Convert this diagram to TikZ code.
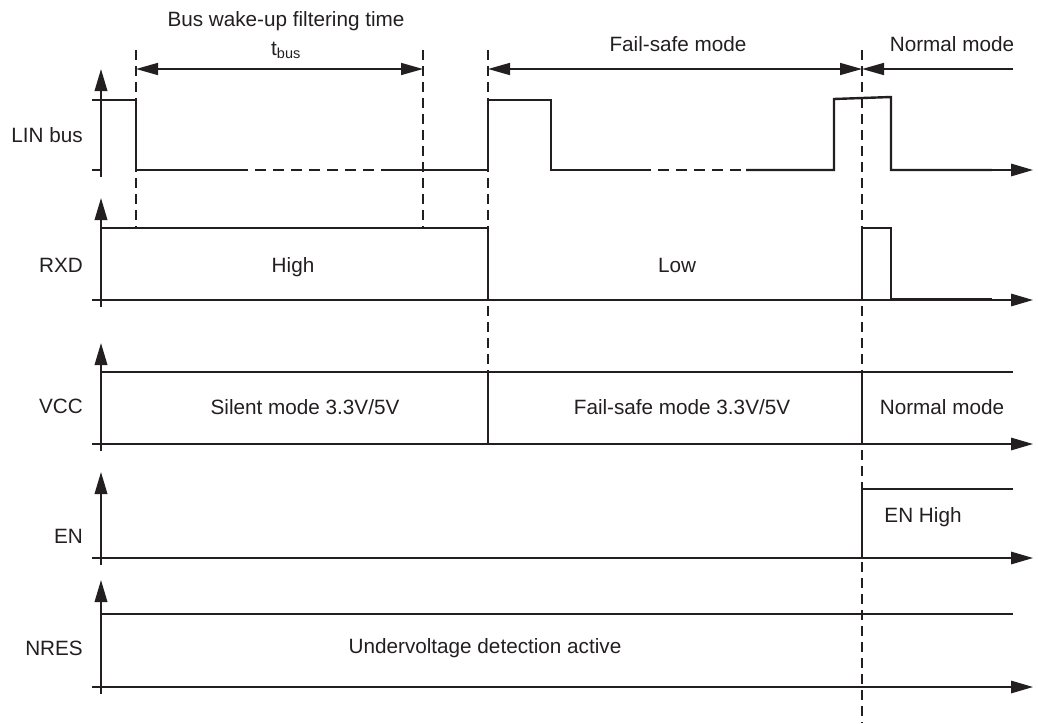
\documentclass[tikz,border=0pt]{standalone}
\usepackage{fontspec}
\setmainfont{Liberation Sans}
\usetikzlibrary{arrows.meta}
\definecolor{ink}{RGB}{35,31,32}
\tikzset{
  sig/.style={line width=2.4pt,ink},
  axline/.style={line width=2pt,ink,-{Triangle[length=22pt,width=12.5pt]}},
  guide/.style={line width=1.3pt,ink,dash pattern=on 10pt off 6pt},
  dimline/.style={line width=1.6pt,ink,{Triangle[length=22pt,width=12pt]}-{Triangle[length=22pt,width=12pt]}},
  halfdim/.style={line width=1.6pt,ink,arrows={-Triangle[length=22pt,width=12pt]}},
  lbl/.style={inner sep=0pt,anchor=base east,text=ink},
  txt/.style={inner sep=0pt,anchor=base,text=ink}
}
\begin{document}
\begin{tikzpicture}[x=1pt,y=-1pt,font=\fontsize{20.7}{24}\selectfont]
\useasboundingbox (0,0) rectangle (1038,723);
\draw [guide] (136,50) -- (136,228);
\draw [guide] (423,50) -- (423,228);
\draw [guide] (488,50) -- (488,372);
\draw [guide] (862,50) -- (862,723);
\foreach \lo/\tip/\name/\ly in {170/69/LIN bus/142,300/198/RXD/272,444/343/VCC/413,558/472/EN/543,687/580/NRES/655}{
  \draw [axline] (101,\lo+7) -- (101,\tip);
  \draw [axline,line width=1.5pt] (990,\lo) -- (1033,\lo);
  \node [lbl] (name-\lo) at (83,\ly) {\name};
}
\draw [sig] (92,100) -- (136,100) -- (136,170) -- (237,170);
\draw [sig] (387,170) -- (488,170) -- (488,100) -- (551,100) -- (551,170) -- (640,170);
\draw [sig] (746,170) -- (834,170) -- (834,99) -- (891,97) -- (891,170) -- (992,170);
\draw [sig] (92,170) -- (101,170);
\draw [guide,dash pattern=on 11pt off 7pt] (237,170) -- (387,170);
\draw [guide,dash pattern=on 11pt off 7pt] (640,170) -- (746,170);
\draw [sig] (92,300) -- (992,300);
\draw [sig] (101,228) -- (488,228) -- (488,300);
\draw [sig] (862,300) -- (862,228) -- (891,228) -- (891,299) -- (992,299);
\draw [sig] (92,444) -- (992,444);
\draw [sig] (101,372) -- (1013,372);
\draw [sig] (488,372) -- (488,444);
\draw [sig] (862,372) -- (862,444);
\draw [sig] (92,558) -- (992,558);
\draw [sig] (862,558) -- (862,489) -- (1013,489);
\draw [sig] (92,687) -- (992,687);
\draw [sig] (101,614) -- (1013,614);
\draw [dimline] (136,69) -- (423,69);
\draw [dimline] (488,69) -- (862,69);
\draw [halfdim] (1013,69) -- (862,69);
\node [txt] (bwt) at (286,26) {Bus wake-up filtering time};
\node [txt] (tbus) at (286,55) {t\textsubscript{bus}};
\node [txt] (fsm) at (678,51) {Fail-safe mode};
\node [txt] (nm) at (952,51) {Normal mode};
\node [txt] (high) at (293,272) {High};
\node [txt] (low) at (677,272) {Low};
\node [txt] (silent) at (305,414) {Silent mode 3.3V/5V};
\node [txt] (fsv) at (682,414) {Fail-safe mode 3.3V/5V};
\node [txt] (nmv) at (942,414) {Normal mode};
\node [txt] (enh) at (923,522) {EN High};
\node [txt] (uvd) at (485,653) {Undervoltage detection active};
\end{tikzpicture}
\end{document}
